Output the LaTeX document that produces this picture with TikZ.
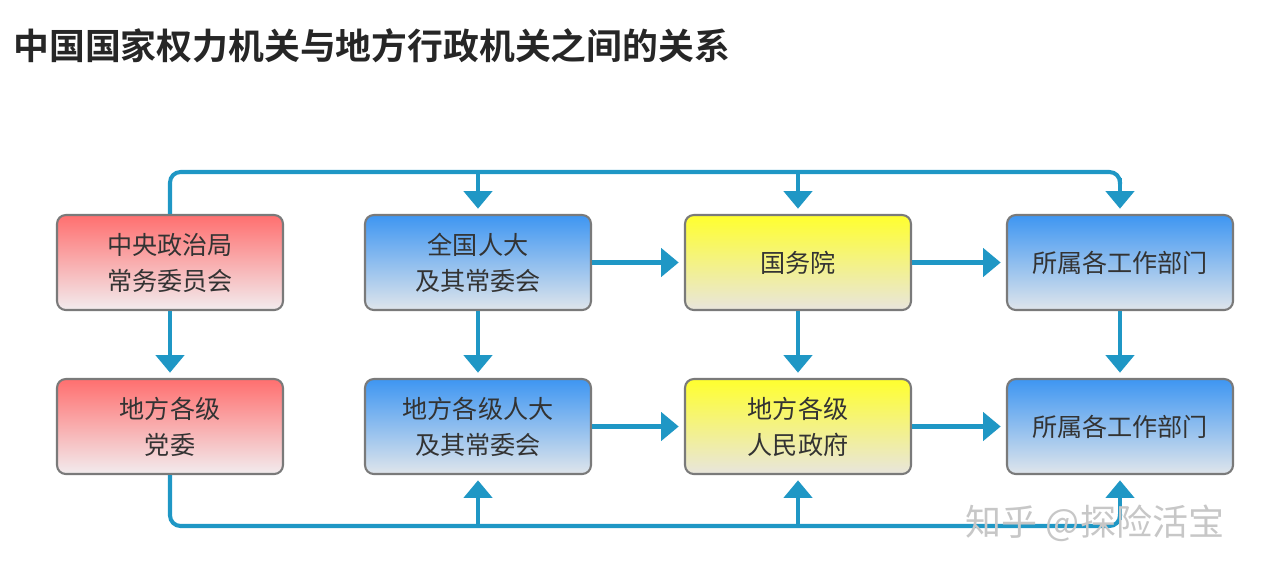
\documentclass[tikz,border=0pt]{standalone}
\usepackage{fontspec}
\setmainfont{Noto Sans CJK SC}[BoldFont=Noto Sans CJK SC Bold]
\usetikzlibrary{arrows.meta,calc}
\definecolor{linkblue}{HTML}{1F97C5}
\definecolor{boxedge}{HTML}{7A7A7A}
\definecolor{redtop}{HTML}{FF6F6F}
\definecolor{redbot}{HTML}{F2ECEE}
\definecolor{bluetop}{HTML}{3E96F2}
\definecolor{bluebot}{HTML}{DFE5EB}
\definecolor{yeltop}{HTML}{FFFF2E}
\definecolor{yelbot}{HTML}{E8E5DD}
\tikzset{
  organ/.style={draw=boxedge, line width=1.2pt, rounded corners=5pt, minimum width=4.52cm, minimum height=1.9cm,
    align=center, text=black!80, font=\fontsize{14.3}{20.5}\selectfont},
  party/.style={organ, top color=redtop, bottom color=redbot},
  congress/.style={organ, top color=bluetop, bottom color=bluebot},
  govt/.style={organ, top color=yeltop, bottom color=yelbot},
  link/.style={draw=linkblue, line width=2.3pt, -{Triangle[width=16pt,length=10pt]}, shorten >=3pt},
  rail/.style={draw=linkblue, line width=2.3pt, rounded corners=6pt}
}
\begin{document}
\begin{tikzpicture}[x=0.02cm, y=-0.02cm]
        \useasboundingbox (0,0) rectangle (1262,576);
        \node[anchor=west, inner sep=0, font=\bfseries\fontsize{20.4}{24}\selectfont, text=black!85] (title) at (13,46) {中国国家权力机关与地方行政机关之间的关系};
        % upper row: central organs
        \node[party] (pol) at (170,262.5) {中央政治局\\常务委员会};
        \node[congress] (npc) at (478,262.5) {全国人大\\及其常委会};
        \node[govt] (state) at (798,262.5) {国务院};
        \node[congress] (dept) at (1120,262.5) {所属各工作部门};
        % lower row: local organs
        \node[party] (lparty) at (170,426.5) {地方各级\\党委};
        \node[congress] (lpc) at (478,426.5) {地方各级人大\\及其常委会};
        \node[govt] (lgov) at (798,426.5) {地方各级\\人民政府};
        \node[congress] (ldept) at (1120,426.5) {所属各工作部门};
        \coordinate (topy) at (0,172);
        \coordinate (boty) at (0,526);
        % top rail
        \draw[rail] (pol.north) |- (topy -| dept.north) -- ($(topy -| dept.north)+(0,12)$);
        \draw[link] ($(topy -| dept.north)+(0,6)$) -- (dept.north);
        \draw[link] (topy -| npc.north) -- (npc.north);
        \draw[link] (topy -| state.north) -- (state.north);
        % bottom rail
        \draw[rail] (lparty.south) |- (boty -| ldept.south) -- ($(boty -| ldept.south)+(0,-12)$);
        \draw[link] ($(boty -| ldept.south)+(0,-6)$) -- (ldept.south);
        \draw[link] (boty -| lpc.south) -- (lpc.south);
        \draw[link] (boty -| lgov.south) -- (lgov.south);
        % rows
        \draw[link] (npc) -- (state);
        \draw[link] (state) -- (dept);
        \draw[link] (lpc) -- (lgov);
        \draw[link] (lgov) -- (ldept);
        % columns
        \draw[link] (pol) -- (lparty);
        \draw[link] (npc) -- (lpc);
        \draw[link] (state) -- (lgov);
        \draw[link] (dept) -- (ldept);
        \node[text=black!22, font=\fontsize{20.5}{24}\selectfont, inner sep=0] (mark) at (1095,523) {知乎 @探险活宝};
\end{tikzpicture}
\end{document}
